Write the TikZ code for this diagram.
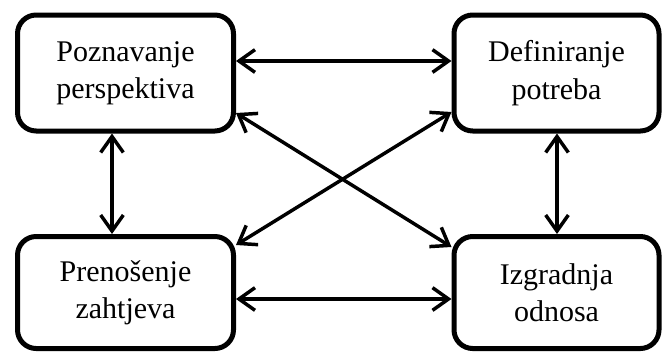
\documentclass[tikz,border=0pt]{standalone}
\usepackage{fontspec}
\setmainfont{Liberation Serif}
\usetikzlibrary{arrows.meta}

\begin{document}
\begin{tikzpicture}[x=0.75pt,y=0.75pt,yscale=-1,xscale=1,
    box/.style={draw, line width=3.75pt, rounded corners=14pt, align=center,
        font=\fontsize{22.5}{28}\selectfont, inner sep=0pt},
    link/.style={line width=2.6pt, {Straight Barb[length=12pt,width=17pt]}-{Straight Barb[length=12pt,width=17pt]}}]

    \useasboundingbox (0,0) rectangle (664,354);

    % Boxes
    \node [box, minimum width=162pt, minimum height=87pt] (pozn) at (125.5,73) {Poznavanje\\perspektiva};
    \node [box, minimum width=153.75pt, minimum height=87pt] (defi) at (556.5,73) {Definiranje\\potreba};
    \node [box, minimum width=162pt, minimum height=84pt] (pren) at (125.5,292.5) {Prenošenje\\zahtjeva};
    \node [box, minimum width=153.75pt, minimum height=84pt] (izgr) at (556.5,292.5) {Izgradnja\\odnosa};

    % Horizontal arrows
    \draw [link] (pozn.east |- 0,61) -- (defi.west |- 0,61);
    \draw [link] (pren.east |- 0,299) -- (izgr.west |- 0,299);

    % Vertical arrows
    \draw [link] (pozn.south -| 112,0) -- (pren.north -| 112,0);
    \draw [link] (defi.south -| 557,0) -- (izgr.north -| 557,0);

    % Diagonals
    \draw [link] (pozn.east |- 0,113) -- (izgr.west |- 0,247);
    \draw [link] (pren.east |- 0,245) -- (defi.west |- 0,112);

\end{tikzpicture}
\end{document}
